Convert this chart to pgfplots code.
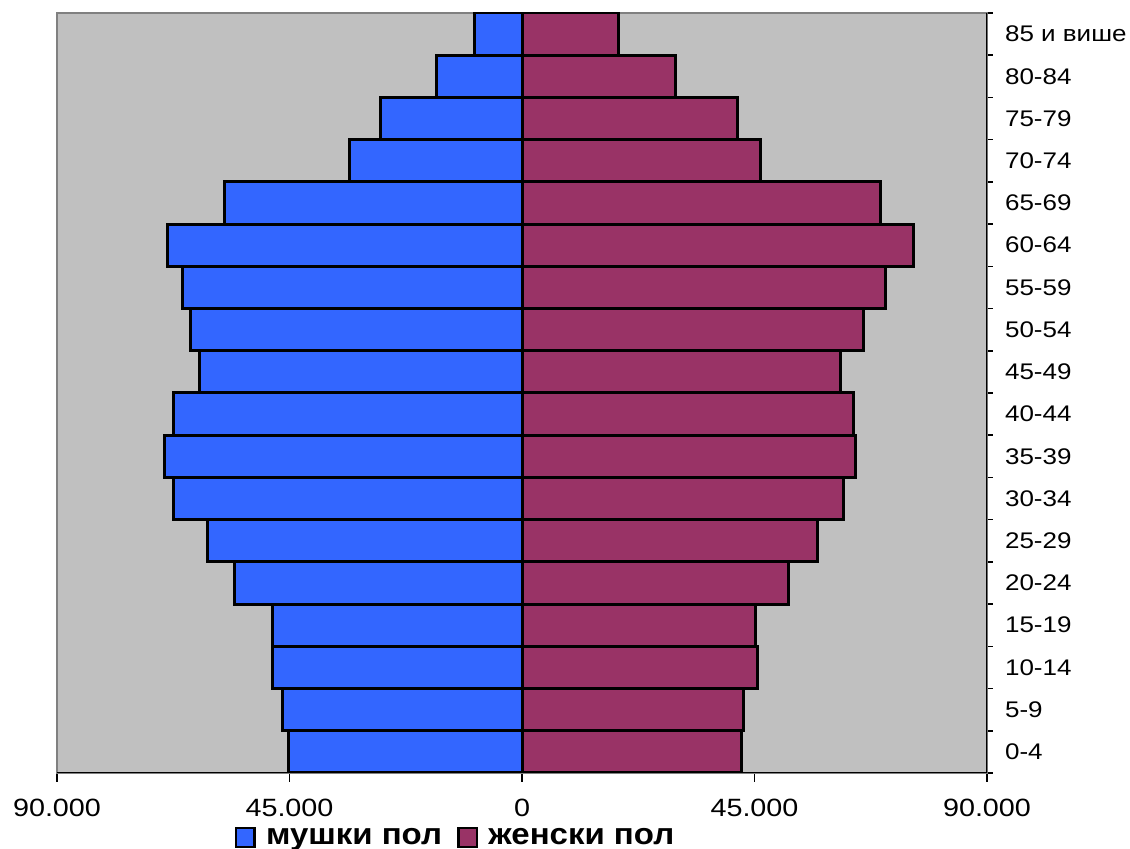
\documentclass[border=0pt]{standalone}
\usepackage{fontspec}
\setmainfont{Liberation Sans}
\newfontfamily\ticklab[FakeStretch=1.15]{Liberation Sans}
\newfontfamily\leglab[FakeStretch=1.1]{Liberation Sans}
\usepackage{pgfplots}
\usepackage{pgfplotstable}
\pgfplotsset{compat=1.18}

\definecolor{plotbg}{HTML}{C0C0C0}
\definecolor{malebar}{HTML}{3366FF}
\definecolor{femalebar}{HTML}{993366}
\definecolor{framegray}{HTML}{808080}

% population by five-year age group (male values negative, drawn to the left)
\pgfplotstableread{
idx male female
0  -45100 42400
1  -46300 42800
2  -48200 45500
3  -48200 45100
4  -55700 51500
5  -60800 57100
6  -67400 62300
7  -69100 64600
8  -67400 64100
9  -62500 61700
10 -64100 66000
11 -65800 70300
12 -68700 75700
13 -57500 69300
14 -33300 46100
15 -27300 41800
16 -16600 29800
17  -9100 18600
}\pyramid

\pgfplotsset{
  sq legend/.style={
    legend image code/.code={
      \draw[##1, line width=1.3pt] (0pt,-4.7pt) rectangle (9.4pt,4.7pt);
    }
  }
}

\begin{document}
\begin{tikzpicture}
\begin{axis}[
  scale only axis,
  width=465pt, height=380pt,
  xbar, bar width=1, bar shift=0pt,
  xmin=-90000, xmax=90000,
  ymin=-0.5, ymax=17.5,
  axis background/.style={fill=plotbg},
  axis line style={framegray, line width=0.75pt},
  tick align=outside,
  major tick length=4.5pt,
  minor tick length=2.75pt,
  tick style={black, line width=0.75pt},
  xtick pos=left,
  ytick pos=right,
  yticklabel pos=right,
  scaled x ticks=false,
  xtick={-90000,-45000,0,45000,90000},
  xticklabels={90.000,45.000,0,45.000,90.000},
  xticklabel style={font=\ticklab\fontsize{12.5}{15}\selectfont, yshift=-5pt},
  ytick={0,...,17},
  yticklabels={0-4,5-9,10-14,15-19,20-24,25-29,30-34,35-39,40-44,45-49,
               50-54,55-59,60-64,65-69,70-74,75-79,80-84,85 и више},
  every major y tick/.append style={draw=none},
  minor ytick={-0.5,0.5,...,17.5},
  yticklabel style={font=\ticklab\fontsize{11.3}{13}\selectfont, anchor=west, xshift=1pt},
  legend columns=2,
  legend cell align=left,
  legend style={
    at={(0.4295,-0.085)}, anchor=center,
    draw=none, fill=none, inner sep=0pt,
    font=\leglab\bfseries\fontsize{15}{18}\selectfont,
    /tikz/every odd column/.append style={column sep=3pt},
    /tikz/every even column/.append style={column sep=5.5pt},
  },
]
\addplot[fill=malebar, draw=black, line width=1.5pt, sq legend]
  table[x=male, y=idx] {\pyramid};
\addlegendentry{мушки пол}
\addplot[fill=femalebar, draw=black, line width=1.5pt, sq legend]
  table[x=female, y=idx] {\pyramid};
\addlegendentry{женски пол}

% black axis lines along the bottom and right edges
\draw[black, line width=0.75pt]
  (rel axis cs:0,0) -- (rel axis cs:1,0) -- (rel axis cs:1,1);
\end{axis}
\pgfresetboundingbox
\useasboundingbox (-28.5pt,-38pt) rectangle (536.5pt,386.5pt);
\end{tikzpicture}
\end{document}
